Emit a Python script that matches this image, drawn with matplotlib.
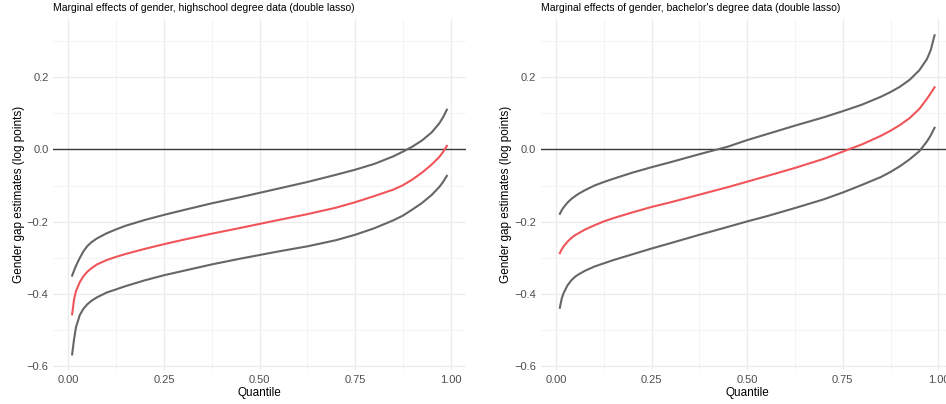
import numpy as np
import matplotlib
matplotlib.use("Agg")
import matplotlib.pyplot as plt
from matplotlib.ticker import MultipleLocator

plt.rcParams['font.family'] = ['Liberation Sans', 'DejaVu Sans']

# quantiles at which the curves were read
quantiles = [0.01, 0.015, 0.02, 0.03, 0.04, 0.05, 0.06, 0.075, 0.1, 0.125, 0.15, 0.2,
             0.25, 0.3, 0.375, 0.45, 0.5, 0.55, 0.625, 0.7, 0.75, 0.8, 0.85, 0.875,
             0.9, 0.925, 0.95, 0.97, 0.98, 0.99]

# highschool degree data
hs_upper = [-0.349, -0.335, -0.322, -0.300, -0.281, -0.267, -0.257, -0.246, -0.232, -0.221,
            -0.211, -0.195, -0.181, -0.168, -0.149, -0.132, -0.120, -0.108, -0.090, -0.070,
            -0.056, -0.040, -0.019, -0.006, 0.008, 0.025, 0.047, 0.072, 0.089, 0.110]
hs_est = [-0.456, -0.415, -0.392, -0.367, -0.350, -0.338, -0.329, -0.318, -0.306, -0.297,
          -0.289, -0.275, -0.262, -0.250, -0.233, -0.217, -0.206, -0.195, -0.179, -0.161,
          -0.146, -0.129, -0.111, -0.099, -0.083, -0.064, -0.042, -0.021, -0.007, 0.010]
hs_lower = [-0.567, -0.525, -0.492, -0.458, -0.440, -0.428, -0.419, -0.409, -0.396, -0.387,
            -0.378, -0.362, -0.348, -0.336, -0.318, -0.302, -0.292, -0.282, -0.268, -0.251,
            -0.236, -0.218, -0.196, -0.183, -0.166, -0.148, -0.126, -0.104, -0.090, -0.073]

# bachelor's degree data
ba_upper = [-0.178, -0.168, -0.160, -0.147, -0.137, -0.129, -0.122, -0.113, -0.100, -0.090,
            -0.081, -0.064, -0.049, -0.035, -0.013, 0.008, 0.026, 0.042, 0.066, 0.089,
            0.106, 0.124, 0.146, 0.159, 0.174, 0.193, 0.219, 0.250, 0.275, 0.316]
ba_est = [-0.287, -0.276, -0.268, -0.255, -0.245, -0.237, -0.231, -0.222, -0.210, -0.199,
          -0.190, -0.174, -0.159, -0.146, -0.125, -0.104, -0.089, -0.074, -0.051, -0.026,
          -0.006, 0.014, 0.038, 0.052, 0.068, 0.087, 0.112, 0.140, 0.156, 0.172]
ba_lower = [-0.438, -0.412, -0.397, -0.376, -0.362, -0.352, -0.345, -0.336, -0.324, -0.315,
            -0.306, -0.290, -0.274, -0.259, -0.236, -0.214, -0.199, -0.185, -0.162, -0.138,
            -0.119, -0.098, -0.076, -0.062, -0.046, -0.027, -0.005, 0.022, 0.039, 0.060]

titles = ["Marginal effects of gender, highschool degree data (double lasso)",
          "Marginal effects of gender, bachelor's degree data (double lasso)"]
x_ticks = [0.0, 0.25, 0.5, 0.75, 1.0]
x_labels = ["0.00", "0.25", "0.50", "0.75", "1.00"]
y_ticks = [-0.6, -0.4, -0.2, 0.0, 0.2]
y_labels = ["\u22120.6", "\u22120.4", "\u22120.2", "0.0", "0.2"]

panels = [(hs_lower, hs_est, hs_upper), (ba_lower, ba_est, ba_upper)]

fig = plt.figure(figsize=(9.46, 4.04), dpi=100)
W, H = 946, 404
lefts = [53.4, 541.1]

for i, (lo, est, hi) in enumerate(panels):
    ax = fig.add_axes([lefts[i] / W, (H - 369.6) / H, 412.2 / W, 350.6 / H])
    ax.axhline(0, color='#3a3a3a', lw=1.0, zorder=2)
    ax.plot(quantiles, hi, color='#666666', lw=1.5, zorder=3)
    ax.plot(quantiles, lo, color='#666666', lw=1.5, zorder=3)
    ax.plot(quantiles, est, color='#F0555A', lw=1.5, zorder=4)

    ax.set_xlim(-0.039, 1.039)
    ax.set_ylim(-0.609, 0.361)
    ax.set_xticks(x_ticks)
    ax.set_xticklabels(x_labels)
    ax.set_yticks(y_ticks)
    ax.set_yticklabels(y_labels)
    ax.xaxis.set_minor_locator(MultipleLocator(0.125))
    ax.yaxis.set_minor_locator(MultipleLocator(0.1))
    ax.grid(True, which='major', color='#ebebeb', lw=0.9)
    ax.grid(True, which='minor', color='#f2f2f2', lw=0.6)
    ax.set_axisbelow(True)
    for s in ax.spines.values():
        s.set_visible(False)
    ax.tick_params(which='both', length=0, labelsize=8, labelcolor='#4d4d4d')
    ax.tick_params(axis='y', pad=3.5)
    ax.tick_params(axis='x', pad=4)
    ax.set_xlabel("Quantile", fontsize=8.5, labelpad=1)
    ax.set_ylabel("Gender gap estimates (log points)", fontsize=8.5, labelpad=1.5)
    ax.set_title(titles[i], fontsize=7.5, loc='left', pad=6)

fig.savefig("out.png", dpi=100)
